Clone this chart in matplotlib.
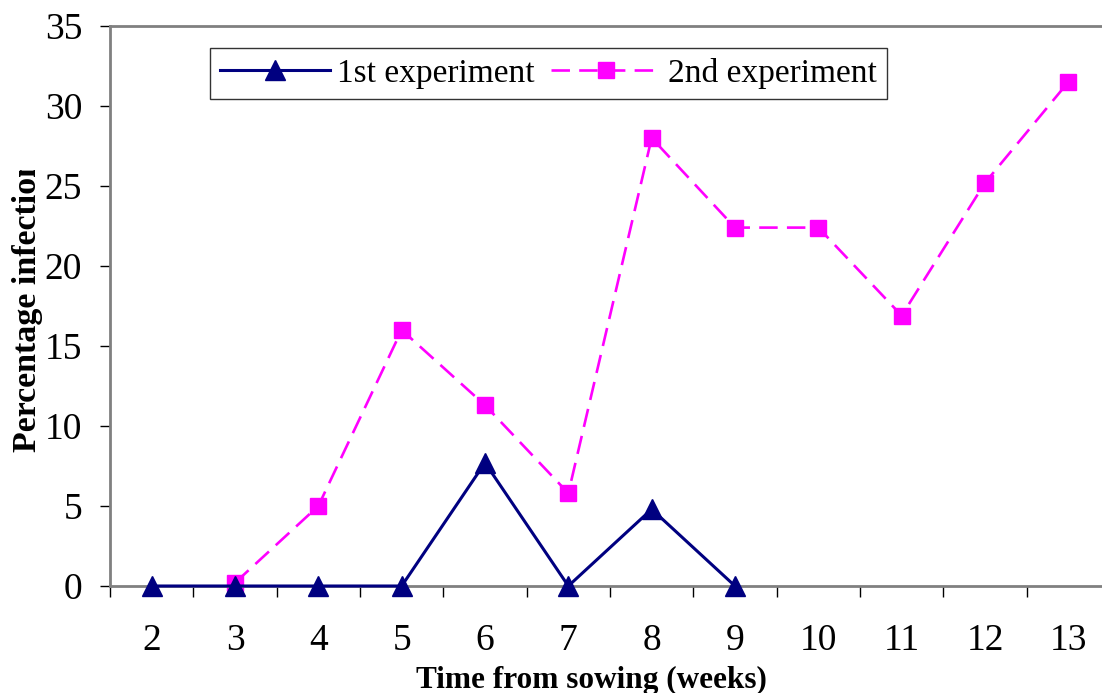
import matplotlib
matplotlib.use("Agg")
import matplotlib.pyplot as plt
from matplotlib.transforms import Bbox

weeks = [2, 3, 4, 5, 6, 7, 8, 9, 10, 11, 12, 13]
exp1_weeks = [2, 3, 4, 5, 6, 7, 8, 9]
exp1 = [0, 0, 0, 0, 7.7, 0, 4.8, 0]
exp2_weeks = [3, 4, 5, 6, 7, 8, 9, 10, 11, 12, 13]
exp2 = [0.2, 5.0, 16.0, 11.3, 5.8, 28.0, 22.4, 22.4, 16.9, 25.2, 31.5]
yticks = [0, 5, 10, 15, 20, 25, 30, 35]

plt.rcParams['font.family'] = ['Liberation Serif', 'DejaVu Serif']

fig = plt.figure(figsize=(11.02, 6.93), dpi=100)
ax = fig.add_axes([110/1102, 107/693, 1000/1102, 560/693])

ax.plot(exp1_weeks, exp1, color='#000080', lw=2.2, marker='^', ms=15,
        label='1st experiment', zorder=3, clip_on=False)
ax.plot(exp2_weeks, exp2, color='#FF00FF', lw=1.9, dashes=(7, 3.5), marker='s', ms=12,
        label='2nd experiment', zorder=2, clip_on=False)

ax.set_xlim(1.5, 13.5)
ax.set_ylim(0, 35)
ax.set_yticks(yticks)
ax.set_xticks(weeks)
ax.set_xticks([w + 0.5 for w in [1] + weeks], minor=True)
ax.tick_params(axis='x', which='major', length=0, pad=27, labelsize=27)
ax.tick_params(axis='x', which='minor', length=8, width=1, direction='out', color='black')
ax.tick_params(axis='y', which='major', length=7, width=1, direction='out', labelsize=27, pad=13)

for s in ax.spines.values():
    s.set_color('#808080')
    s.set_linewidth(2)

ax.set_xlabel('Time from sowing (weeks)', fontsize=22.5, fontweight='bold')
ax.xaxis.set_label_coords(0.481, -0.168)
ax.xaxis.label.set_va('center')
ax.set_ylabel('Percentage infection', fontsize=24.5, fontweight='bold')
ax.yaxis.set_label_coords(-0.082, 0.502)
ax.yaxis.label.set_va('center')
ax.yaxis.label.set_clip_on(True)
ax.yaxis.label.set_clip_box(Bbox.from_extents(0, 0, 1102, 693 - 170))

leg = ax.legend(loc='upper left', bbox_to_anchor=(100/1000, 1 - 22/560), ncol=2,
                fontsize=24, frameon=True, fancybox=False, edgecolor='black',
                handlelength=3.3, columnspacing=0.5, borderpad=0.3, handletextpad=0.2,
                borderaxespad=0)
leg.get_frame().set_linewidth(1)

fig.savefig('out.png', dpi=100)
